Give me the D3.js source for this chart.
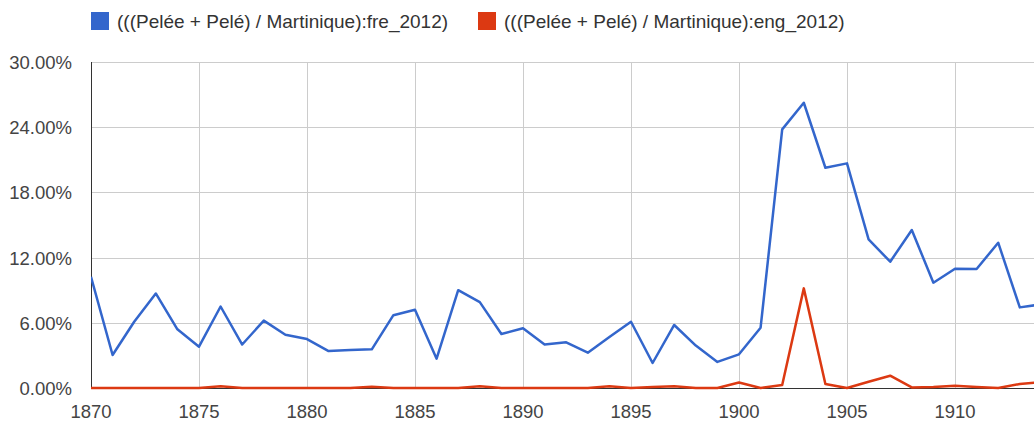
<!DOCTYPE html>
<html>
<head>
<meta charset="utf-8">
<script src="https://cdn.jsdelivr.net/npm/d3@7"></script>
<style>
  html, body { margin: 0; padding: 0; background: #fff; overflow: hidden; }
  text { font-family: "Liberation Sans", Arial, sans-serif; }
</style>
</head>
<body>
<div id="container"></div>
<script>
// series (percent)
const years = d3.range(1870, 1915);
const fre2012 = [10.24, 3.04, 6.1, 8.7, 5.4, 3.8, 7.5, 4.0, 6.2, 4.9,
                 4.5, 3.4, 3.5, 3.56, 6.7, 7.2, 2.7, 9.0, 7.9, 4.97,
                 5.5, 4.0, 4.2, 3.25, 4.7, 6.1, 2.3, 5.8, 3.9, 2.4,
                 3.1, 5.55, 23.8, 26.25, 20.27, 20.67, 13.68, 11.62, 14.54, 9.69,
                 10.98, 10.95, 13.37, 7.42, 7.7];
const eng2012 = [0, 0, 0, 0, 0, 0, 0.15, 0, 0, 0,
                 0, 0, 0, 0.12, 0, 0, 0, 0, 0.15, 0,
                 0, 0, 0, 0, 0.15, 0, 0.1, 0.15, 0, 0,
                 0.5, 0, 0.28, 9.17, 0.37, 0, 0.58, 1.13, 0.05, 0.1,
                 0.2, 0.1, 0, 0.37, 0.55];
const seriesNames = ["(((Pelée + Pelé) / Martinique):fre_2012)", "(((Pelée + Pelé) / Martinique):eng_2012)"];
const seriesColors = ["#3366cc", "#dc3912"];
const yTicks = [0, 6, 12, 18, 24, 30];
const xTicks = [1870, 1875, 1880, 1885, 1890, 1895, 1900, 1905, 1910];

const width = 1034, height = 421;
const plotLeft = 91, plotTop = 62, plotBottom = 388;
const fontSize = 18.5;

const x = d3.scaleLinear().domain([1870, 1910]).range([plotLeft, plotLeft + 40 * 21.6]);
const y = d3.scaleLinear().domain([0, 30]).range([plotBottom, plotTop]);

const svg = d3.select("#container")
  .append("svg")
    .attr("width", width)
    .attr("height", height);

svg.append("defs").append("clipPath").attr("id", "plot")
  .append("rect")
    .attr("x", plotLeft).attr("y", 0)
    .attr("width", width - plotLeft).attr("height", plotBottom + 2);

// gridlines
svg.append("g")
    .attr("stroke", "#cccccc")
    .attr("stroke-width", 1)
  .selectAll("line")
  .data(yTicks.filter(d => d > 0))
  .join("line")
    .attr("x1", plotLeft).attr("x2", width)
    .attr("y1", d => Math.round(y(d)) + 0.5)
    .attr("y2", d => Math.round(y(d)) + 0.5);

svg.append("g")
    .attr("stroke", "#cccccc")
    .attr("stroke-width", 1)
  .selectAll("line")
  .data(xTicks.filter(d => d > 1870))
  .join("line")
    .attr("x1", d => Math.round(x(d)) + 0.5)
    .attr("x2", d => Math.round(x(d)) + 0.5)
    .attr("y1", plotTop).attr("y2", plotBottom);

// axis line
svg.append("line")
    .attr("x1", plotLeft + 0.5).attr("x2", plotLeft + 0.5)
    .attr("y1", plotTop).attr("y2", plotBottom)
    .attr("stroke", "#333").attr("stroke-width", 1);

// y labels
svg.append("g")
  .selectAll("text")
  .data(yTicks)
  .join("text")
    .attr("x", 72)
    .attr("y", d => y(d) + 7)
    .attr("text-anchor", "end")
    .attr("font-size", fontSize)
    .attr("fill", "#444")
    .text(d => d.toFixed(2) + "%");

// x labels
svg.append("g")
  .selectAll("text")
  .data(xTicks)
  .join("text")
    .attr("x", d => x(d))
    .attr("y", 418)
    .attr("text-anchor", "middle")
    .attr("font-size", fontSize)
    .attr("fill", "#444")
    .text(d => d);

// lines
const line = vals => d3.line()
  .x((d, i) => x(years[i]))
  .y(d => y(d))(vals);

const plot = svg.append("g").attr("clip-path", "url(#plot)");
plot.append("line")
    .attr("x1", plotLeft).attr("x2", width)
    .attr("y1", plotBottom + 0.5).attr("y2", plotBottom + 0.5)
    .attr("stroke", "#333").attr("stroke-width", 1);
plot.selectAll("path")
  .data([fre2012, eng2012])
  .join("path")
    .attr("d", d => line(d))
    .attr("fill", "none")
    .attr("stroke", (d, i) => seriesColors[i])
    .attr("stroke-width", 2.5)
    .attr("stroke-linejoin", "round");

// legend
const legendX = [91, 478];
const lg = svg.append("g")
  .selectAll("g")
  .data(seriesNames)
  .join("g")
    .attr("transform", (d, i) => `translate(${legendX[i]},0)`);
lg.append("rect")
    .attr("x", 0).attr("y", 12)
    .attr("width", 18).attr("height", 18)
    .attr("fill", (d, i) => seriesColors[i]);
lg.append("text")
    .attr("x", 26).attr("y", 28)
    .attr("font-size", 19)
    .attr("fill", "#333")
    .text(d => d);
</script>
</body>
</html>
